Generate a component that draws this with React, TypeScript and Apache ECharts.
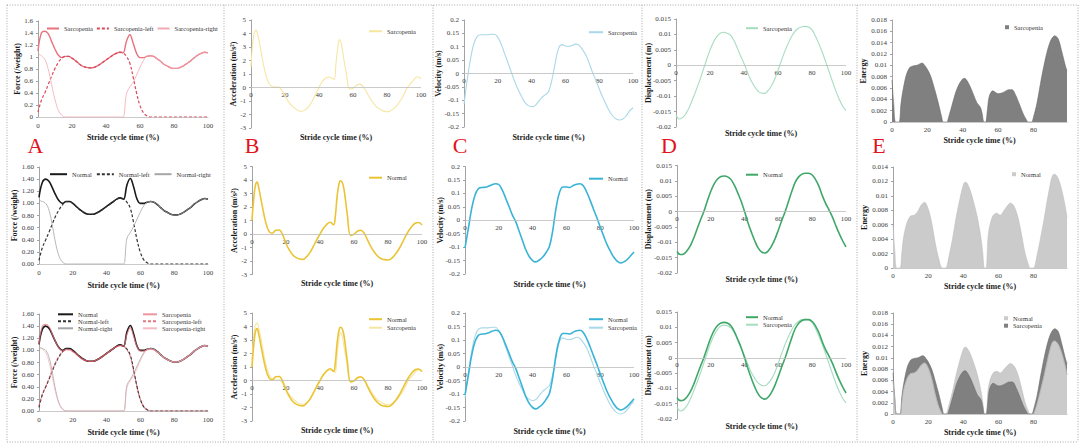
import React, { useEffect, useRef } from 'react';
import * as echarts from 'echarts';

const FONT = '"Liberation Serif", "Times New Roman", serif';

// Stride cycle time grid (%) used for force, velocity, displacement
const STRIDE = [0,2,4,6,8,10,12,14,16,18,20,22,24,26,28,30,32,34,36,38,40,42,44,46,48,50,52,54,56,58,60,62,64,66,68,70,72,74,76,78,80,82,84,86,88,90,92,94,96,98,100];

// A: force (/weight)
const FORCE_SARC = [1.10,1.40,1.43,1.39,1.26,1.13,1.03,0.99,1.01,1.01,0.98,0.94,0.89,0.85,0.83,0.82,0.82,0.84,0.87,0.91,0.95,0.99,1.03,1.06,1.08,1.07,1.26,1.37,1.23,1.06,0.99,0.99,1.01,1.02,1.01,0.97,0.93,0.88,0.85,0.82,0.81,0.81,0.83,0.86,0.90,0.94,0.99,1.03,1.06,1.08,1.07];
const FORCE_SARC_LEFT = [0.08,0.28,0.40,0.54,0.68,0.81,0.91,0.98,1.01,1.01,0.98,0.94,0.89,0.85,0.83,0.82,0.82,0.84,0.87,0.91,0.95,0.99,1.03,1.06,1.08,1.07,1.01,0.90,0.66,0.40,0.19,0.07,0.02,0,0,0,0,0,0,0,0,0,0,0,0,0,0,0,0,0,0];
const FORCE_SARC_RIGHT = [1.05,1.02,0.96,0.80,0.54,0.29,0.11,0.03,0,0,0,0,0,0,0,0,0,0,0,0,0,0,0,0,0,0,0.38,0.50,0.58,0.70,0.83,0.94,1.01,1.02,1.01,0.97,0.93,0.88,0.85,0.82,0.81,0.81,0.83,0.86,0.90,0.94,0.99,1.03,1.06,1.08,1.07];
const FORCE_NORM = [1.10,1.35,1.40,1.36,1.25,1.13,1.04,1.00,1.03,1.03,1.00,0.95,0.90,0.86,0.83,0.82,0.82,0.84,0.87,0.91,0.95,0.99,1.03,1.07,1.09,1.07,1.30,1.41,1.27,1.07,1.00,1.00,1.02,1.03,1.02,0.98,0.93,0.88,0.85,0.82,0.81,0.81,0.83,0.86,0.90,0.94,0.99,1.03,1.06,1.08,1.07];
const FORCE_NORM_LEFT = [0.06,0.27,0.40,0.53,0.67,0.80,0.90,0.98,1.03,1.03,1.00,0.95,0.90,0.86,0.83,0.82,0.82,0.84,0.87,0.91,0.95,0.99,1.03,1.07,1.09,1.07,1.02,0.92,0.68,0.40,0.19,0.07,0.02,0,0,0,0,0,0,0,0,0,0,0,0,0,0,0,0,0,0];
const FORCE_NORM_RIGHT = [1.05,1.03,1.00,0.88,0.62,0.32,0.12,0.03,0,0,0,0,0,0,0,0,0,0,0,0,0,0,0,0,0,0,0.42,0.52,0.62,0.74,0.86,0.96,1.02,1.03,1.02,0.98,0.93,0.88,0.85,0.82,0.81,0.81,0.83,0.86,0.90,0.94,0.99,1.03,1.06,1.08,1.07];

// B: acceleration (m/s²)
const ACC_X = [0,1,2,3,4,5,6,8,10,12,14,16,18,20,22,24,26,28,30,32,34,36,38,40,42,44,46,48,49,50,51,52,53,54,55,56,58,60,62,64,66,68,70,72,74,76,78,80,82,84,86,88,90,92,94,96,98,100];
const ACC_SARC = [1.5,3.3,4.1,4.25,3.9,3.3,2.6,1.3,0.45,0.1,0.03,0.05,-0.2,-0.6,-1.05,-1.35,-1.56,-1.72,-1.76,-1.65,-1.4,-1.0,-0.5,0.0,0.45,0.7,0.78,0.65,0.6,1.8,2.9,3.55,3.3,2.6,1.8,1.1,-0.1,-0.05,0.15,0.25,0.05,-0.35,-0.8,-1.15,-1.45,-1.62,-1.75,-1.8,-1.72,-1.55,-1.3,-0.95,-0.5,0.0,0.3,0.6,0.8,0.65];
const ACC_NORM = [1.0,2.6,3.6,3.85,3.4,2.75,2.1,0.9,0.2,0.06,0.28,0.3,-0.05,-0.7,-1.2,-1.55,-1.75,-1.85,-1.88,-1.7,-1.4,-0.94,-0.45,0.0,0.42,0.72,0.87,0.68,1.3,2.7,3.6,3.95,3.85,3.4,2.5,1.5,-0.1,-0.03,0.2,0.28,0.05,-0.45,-0.95,-1.35,-1.65,-1.83,-1.9,-1.93,-1.82,-1.55,-1.2,-0.75,-0.25,0.2,0.55,0.8,0.85,0.67];

// C: velocity (m/s)
const VEL_SARC = [-0.115,-0.02,0.06,0.115,0.14,0.145,0.145,0.145,0.147,0.147,0.135,0.11,0.075,0.04,0.005,-0.03,-0.06,-0.085,-0.108,-0.12,-0.124,-0.12,-0.105,-0.09,-0.08,-0.068,-0.025,0.04,0.095,0.108,0.103,0.102,0.105,0.11,0.106,0.09,0.07,0.04,0.005,-0.025,-0.057,-0.088,-0.115,-0.14,-0.158,-0.17,-0.174,-0.17,-0.158,-0.14,-0.128];
const VEL_NORM = [-0.103,-0.03,0.045,0.095,0.118,0.122,0.123,0.127,0.132,0.136,0.133,0.113,0.083,0.052,0.02,-0.005,-0.04,-0.075,-0.11,-0.135,-0.15,-0.155,-0.148,-0.137,-0.12,-0.097,-0.035,0.05,0.105,0.124,0.124,0.122,0.129,0.134,0.136,0.128,0.105,0.075,0.042,0.01,-0.025,-0.058,-0.09,-0.115,-0.137,-0.152,-0.159,-0.155,-0.146,-0.132,-0.118];

// D: displacement (m)
const DISP_SARC = [-0.0161,-0.0174,-0.0169,-0.0155,-0.0134,-0.0107,-0.0078,-0.0048,-0.0015,0.0018,0.0049,0.0075,0.0093,0.0104,0.0107,0.0104,0.0098,0.0081,0.0057,0.003,0.0006,-0.0022,-0.0048,-0.0067,-0.0082,-0.009,-0.0091,-0.0083,-0.0068,-0.0046,-0.0016,0.0015,0.0045,0.0071,0.0093,0.011,0.012,0.0125,0.0126,0.0124,0.0115,0.0095,0.007,0.0043,0.0012,-0.002,-0.0052,-0.0083,-0.011,-0.0132,-0.0147];
const DISP_NORM = [-0.013,-0.014,-0.0138,-0.0127,-0.011,-0.0085,-0.0055,-0.0026,0.0002,0.0035,0.0066,0.009,0.0106,0.0114,0.0116,0.0113,0.0104,0.0085,0.006,0.0033,0.0,-0.0036,-0.0067,-0.0095,-0.0118,-0.0131,-0.0135,-0.0128,-0.0112,-0.0089,-0.006,-0.0029,0.0,0.0034,0.0067,0.0096,0.0113,0.0122,0.0125,0.0125,0.0119,0.0104,0.0082,0.0052,0.0026,0.0005,-0.0018,-0.0046,-0.0072,-0.0095,-0.0115];

// E: energy
const EN_SARC_X = [0,1,2,4,5,6,8,10,12,14,16,17,18,20,22,24,26,28,29,31,32,34,36,38,40,41,42,44,46,48,50,51,52,53,54,55,57,60,62,64,66,68,70,72,74,76,77,79,80,82,84,86,88,90,92,94,96,98,99];
const EN_SARC_Y = [0.0074,0.003,0,0,0.003,0.0052,0.0082,0.0096,0.0099,0.0100,0.0103,0.0104,0.0102,0.0093,0.0080,0.0059,0.0036,0.0010,0,0,0.0008,0.003,0.0052,0.0067,0.0076,0.0077,0.0075,0.0064,0.0049,0.0034,0.0026,0.0015,0,0,0.0022,0.0045,0.0055,0.0050,0.0051,0.0054,0.0057,0.0057,0.0047,0.0032,0.0016,0.0004,0,0,0.0008,0.0033,0.0068,0.0100,0.0127,0.0145,0.0152,0.0147,0.0125,0.0100,0.009];
const EN_NORM_X = [0,1,2,4,5,6,8,10,12,14,16,18,20,22,24,26,28,30,32,34,36,38,40,41,42,44,46,48,50,51,52,53,54,55,57,59,61,63,65,67,69,71,73,75,77,78,80,82,84,86,88,90,91,92,94,96,98,99];
const EN_NORM_Y = [0.006,0.0025,0,0,0.002,0.0042,0.0063,0.0072,0.0073,0.0078,0.0087,0.0091,0.0082,0.0063,0.0035,0.0013,0,0,0.0018,0.0042,0.0071,0.0095,0.0115,0.0119,0.0118,0.0107,0.0090,0.0070,0.0042,0.0022,0,0,0.004,0.0058,0.0073,0.0076,0.0073,0.0079,0.0086,0.0090,0.0085,0.0071,0.0048,0.0022,0.0005,0,0,0.0018,0.0042,0.0068,0.0097,0.0122,0.0129,0.013,0.0124,0.0108,0.0085,0.007];

const PANEL_LETTERS = ['A', 'B', 'C', 'D', 'E'];
const X_TITLE = 'Stride cycle time (%)';

type Panel = {
  g: [number, number, number, number];
  y: [number, number, number];
  fmt2?: boolean;
  yName: string;
  yGap: number;
  xMax: number;
  xMargin: number; // label distance from the x axis line (or from the zero line when crossing)
  xGap: number; // title distance from the bottom edge of the plot area
  cross?: boolean; // x axis drawn at y = 0 inside the plot
  hideMax?: boolean;
};

const PANELS: Panel[] = [
  { g: [38, 21, 170, 96], y: [0, 1.6, 0.2], yName: 'Force (/weight)', yGap: 17, xMax: 100, xMargin: 5, xGap: 16 },
  { g: [39, 167, 169, 97], y: [0, 1.6, 0.2], fmt2: true, yName: 'Force (/weight)', yGap: 21, xMax: 100, xMargin: 5, xGap: 17 },
  { g: [39, 314, 169, 97], y: [0, 1.6, 0.2], fmt2: true, yName: 'Force (/weight)', yGap: 21, xMax: 100, xMargin: 5, xGap: 17 },
  { g: [251, 20, 170, 108], y: [-3, 5, 1], yName: 'Acceleration (m/s²)', yGap: 14, xMax: 100, xMargin: 4, xGap: 5, cross: true },
  { g: [252, 166.5, 170, 108], y: [-3, 5, 1], yName: 'Acceleration (m/s²)', yGap: 13.5, xMax: 100, xMargin: 4, xGap: 5, cross: true },
  { g: [252, 313, 170, 108], y: [-3, 5, 1], yName: 'Acceleration (m/s²)', yGap: 13.5, xMax: 100, xMargin: 4, xGap: 5, cross: true },
  { g: [464, 20, 169, 107], y: [-0.2, 0.2, 0.05], yName: 'Velocity (m/s)', yGap: 21.5, xMax: 100, xMargin: 4, xGap: 6.3, cross: true },
  { g: [465, 166.5, 169, 107.5], y: [-0.2, 0.2, 0.05], yName: 'Velocity (m/s)', yGap: 21, xMax: 100, xMargin: 4, xGap: 6, cross: true },
  { g: [465, 313, 169, 108], y: [-0.2, 0.2, 0.05], yName: 'Velocity (m/s)', yGap: 21, xMax: 100, xMargin: 4, xGap: 6, cross: true },
  { g: [676, 19, 170, 108], y: [-0.02, 0.015, 0.005], yName: 'Displacement (m)', yGap: 24, xMax: 100, xMargin: 4, xGap: 2, cross: true },
  { g: [677, 165.5, 169, 107.5], y: [-0.02, 0.015, 0.005], yName: 'Displacement (m)', yGap: 24.5, xMax: 100, xMargin: 4, xGap: 2.5, cross: true },
  { g: [677, 312, 169, 107], y: [-0.02, 0.015, 0.005], yName: 'Displacement (m)', yGap: 24.5, xMax: 100, xMargin: 4, xGap: 3, cross: true },
  { g: [892, 20, 175, 102], y: [0, 0.018, 0.002], yName: 'Energy', yGap: 25, xMax: 99, xMargin: 4, xGap: 14, hideMax: true },
  { g: [893, 167, 174, 101], y: [0, 0.014, 0.002], yName: 'Energy', yGap: 25, xMax: 99, xMargin: 4, xGap: 14.5, hideMax: true },
  { g: [893, 313, 174, 101], y: [0, 0.018, 0.002], yName: 'Energy', yGap: 25, xMax: 99, xMargin: 4, xGap: 14, hideMax: true },
];

const zip = (xs: number[], ys: (number | string)[]) => xs.map((x, i) => [x, ys[i]]);

const ZERO_LINE = {
  silent: true, symbol: ['none', 'none'], label: { show: false },
  lineStyle: { color: '#bdbdbd', width: 0.8, type: 'solid' },
  emphasis: { disabled: true },
  data: [{ yAxis: 0 }],
};

function line(idx: number, name: string, xs: number[], ys: (number | string)[], color: string, width: number, dash?: number[], opacity = 1) {
  const s: any = {
    type: 'line', name, xAxisIndex: idx, yAxisIndex: idx, data: zip(xs, ys),
    symbol: 'none', smooth: 0.4, color,
    lineStyle: { color, width, type: dash ? dash : 'solid', opacity },
    emphasis: { disabled: true },
  };
  return s;
}

function area(idx: number, name: string, xs: number[], ys: (number | string)[], color: string, edge: string) {
  return {
    type: 'line', name, xAxisIndex: idx, yAxisIndex: idx, data: zip(xs, ys),
    symbol: 'none', smooth: 0.3, color, connectNulls: false,
    lineStyle: { color: edge, width: 0.6 },
    areaStyle: { color, opacity: 1 },
    emphasis: { disabled: true },
  };
}

function legend(names: string[], left: number, top: number, o: { orient?: string; itemWidth: number; itemHeight?: number; itemGap?: number; fontSize?: number; icon?: string }) {
  const fs = o.fontSize ?? 6.5;
  const l: any = {
    data: names, left, top, orient: o.orient ?? 'horizontal',
    itemWidth: o.itemWidth, itemHeight: o.itemHeight ?? fs, itemGap: o.itemGap ?? 3,
    padding: 0, selectedMode: false,
    formatter: (n: string) => n.split('|')[1],
    textStyle: { fontFamily: FONT, fontSize: fs, color: '#333' },
  };
  if (o.icon) l.icon = o.icon;
  else l.itemStyle = { opacity: 0 };
  return l;
}

const C = {
  sarc: '#e8727e', sarcLeft: '#d9485a', sarcRight: '#f3a9b3',
  norm: '#1a1a1a', normLeft: '#333333', normRight: '#a6a6a6',
  accS: '#f6e6a2', accN: '#eac435',
  velS: '#a9d8e8', velN: '#39b3d6',
  disS: '#a6dcc0', disN: '#3fa869',
  enS: '#808080', enSEdge: '#6a6a6a', enN: '#cbcbcb', enNEdge: '#bdbdbd',
};

function buildOption() {
  const grid: any[] = [];
  const xAxis: any[] = [];
  const yAxis: any[] = [];
  const nameStyle = { fontFamily: FONT, fontSize: 8, fontWeight: 'bold', color: '#1a1a1a' };
  PANELS.forEach((p, i) => {
    const h = p.g[3];
    // distance from the bottom edge up to the y = 0 line
    const zeroUp = p.cross ? (h * (0 - p.y[0])) / (p.y[1] - p.y[0]) : 0;
    grid.push({ left: p.g[0], top: p.g[1], width: p.g[2], height: h, containLabel: false, outerBoundsMode: 'none' });
    xAxis.push({
      type: 'value', gridIndex: i, min: 0, max: p.xMax, interval: 20,
      axisLine: { show: !p.cross, onZero: false, lineStyle: { color: '#bdbdbd', width: 0.8 } },
      axisTick: { show: false }, splitLine: { show: false },
      axisLabel: { fontFamily: FONT, fontSize: 7, color: '#404040', margin: p.xMargin - zeroUp, showMaxLabel: !p.hideMax },
      name: X_TITLE, nameLocation: 'middle', nameGap: p.xGap, nameTextStyle: nameStyle, nameMoveOverlap: false,
    });
    yAxis.push({
      type: 'value', gridIndex: i, min: p.y[0], max: p.y[1], interval: p.y[2],
      axisLine: { show: true, onZero: false, lineStyle: { color: '#8c8c8c', width: 0.8 } },
      axisTick: { show: true, length: 2, lineStyle: { color: '#8c8c8c', width: 0.8 } },
      splitLine: { show: false },
      axisLabel: {
        fontFamily: FONT, fontSize: 7, color: '#404040', margin: 5,
        formatter: p.fmt2 ? (v: number) => v.toFixed(2) : undefined,
      },
      name: p.yName, nameLocation: 'middle', nameGap: p.yGap, nameTextStyle: nameStyle, nameMoveOverlap: false,
    });
  });

  const series: any[] = [
    // A
    line(0, 'A1|Sarcopenia', STRIDE, FORCE_SARC, C.sarc, 1.4),
    line(0, 'A1|Sarcopenia-left', STRIDE, FORCE_SARC_LEFT, C.sarcLeft, 1.2, [3, 2]),
    line(0, 'A1|Sarcopenia-right', STRIDE, FORCE_SARC_RIGHT, C.sarcRight, 0.8),
    line(1, 'A2|Normal', STRIDE, FORCE_NORM, C.norm, 1.6),
    line(1, 'A2|Normal-left', STRIDE, FORCE_NORM_LEFT, C.normLeft, 1.2, [3, 2]),
    line(1, 'A2|Normal-right', STRIDE, FORCE_NORM_RIGHT, C.normRight, 0.8),
    line(2, 'A3|Normal', STRIDE, FORCE_NORM, C.norm, 1.6),
    line(2, 'A3|Normal-left', STRIDE, FORCE_NORM_LEFT, C.normLeft, 1.2, [3, 2]),
    line(2, 'A3|Normal-right', STRIDE, FORCE_NORM_RIGHT, C.normRight, 0.8),
    line(2, 'A3|Sarcopenia', STRIDE, FORCE_SARC, C.sarc, 1.2, undefined, 0.75),
    line(2, 'A3|Sarcopenia-left', STRIDE, FORCE_SARC_LEFT, C.sarcLeft, 1.1, [3, 2], 0.75),
    line(2, 'A3|Sarcopenia-right', STRIDE, FORCE_SARC_RIGHT, C.sarcRight, 0.8, undefined, 0.8),
    // B
    line(3, 'B1|Sarcopenia', ACC_X, ACC_SARC, C.accS, 1.1),
    line(4, 'B2|Normal', ACC_X, ACC_NORM, C.accN, 1.6),
    line(5, 'B3|Sarcopenia', ACC_X, ACC_SARC, C.accS, 1.1),
    line(5, 'B3|Normal', ACC_X, ACC_NORM, C.accN, 1.6),
    // C
    line(6, 'C1|Sarcopenia', STRIDE, VEL_SARC, C.velS, 1.1),
    line(7, 'C2|Normal', STRIDE, VEL_NORM, C.velN, 1.6),
    line(8, 'C3|Sarcopenia', STRIDE, VEL_SARC, C.velS, 1.1),
    line(8, 'C3|Normal', STRIDE, VEL_NORM, C.velN, 1.6),
    // D
    line(9, 'D1|Sarcopenia', STRIDE, DISP_SARC, C.disS, 1.1),
    line(10, 'D2|Normal', STRIDE, DISP_NORM, C.disN, 1.6),
    line(11, 'D3|Sarcopenia', STRIDE, DISP_SARC, C.disS, 1.1),
    line(11, 'D3|Normal', STRIDE, DISP_NORM, C.disN, 1.6),
    // E
    area(12, 'E1|Sarcopenia', EN_SARC_X, EN_SARC_Y, C.enS, C.enSEdge),
    area(13, 'E2|Normal', EN_NORM_X, EN_NORM_Y, C.enN, C.enNEdge),
    area(14, 'E3|Normal', EN_NORM_X, EN_NORM_Y, C.enN, C.enNEdge),
    area(14, 'E3|Sarcopenia', EN_SARC_X, EN_SARC_Y, C.enS, C.enSEdge),
    area(14, 'E3|Normal-front', EN_NORM_X, EN_NORM_X.map((x, i) => (x <= 29 || x >= 79 ? EN_NORM_Y[i] : '-')), C.enN, C.enNEdge),
  ];

  // zero line for the panels whose x axis crosses at y = 0 (first series of each such panel)
  const seen = new Set<number>();
  series.forEach((s) => {
    const idx = s.xAxisIndex;
    if (PANELS[idx].cross && !seen.has(idx)) {
      seen.add(idx);
      s.markLine = ZERO_LINE;
      s.z = 3;
    }
  });

  const legends = [
    legend(['A1|Sarcopenia', 'A1|Sarcopenia-left', 'A1|Sarcopenia-right'], 46, 25, { itemWidth: 12, itemGap: 3 }),
    legend(['A2|Normal', 'A2|Normal-left', 'A2|Normal-right'], 49, 170.7, { itemWidth: 17, itemGap: 4 }),
    legend(['A3|Normal', 'A3|Normal-left', 'A3|Normal-right'], 57, 310.8, { orient: 'vertical', itemWidth: 15, itemGap: 0 }),
    legend(['A3|Sarcopenia', 'A3|Sarcopenia-left', 'A3|Sarcopenia-right'], 142, 310.8, { orient: 'vertical', itemWidth: 14, itemGap: 0 }),
    legend(['B1|Sarcopenia'], 368, 27.7, { itemWidth: 13 }),
    legend(['B2|Normal'], 368, 174.2, { itemWidth: 13 }),
    legend(['B3|Normal', 'B3|Sarcopenia'], 368, 315.7, { orient: 'vertical', itemWidth: 13, itemGap: 1.5 }),
    legend(['C1|Sarcopenia'], 588, 28.7, { itemWidth: 14 }),
    legend(['C2|Normal'], 588, 175.2, { itemWidth: 14 }),
    legend(['C3|Normal', 'C3|Sarcopenia'], 588, 315.7, { orient: 'vertical', itemWidth: 14, itemGap: 1.5 }),
    legend(['D1|Sarcopenia'], 745, 24.7, { itemWidth: 12 }),
    legend(['D2|Normal'], 745, 171.2, { itemWidth: 12 }),
    legend(['D3|Normal', 'D3|Sarcopenia'], 745, 313.7, { orient: 'vertical', itemWidth: 12, itemGap: 0.5 }),
    legend(['E1|Sarcopenia'], 1005, 23.7, { itemWidth: 4, itemHeight: 4, icon: 'rect' }),
    legend(['E2|Normal'], 1012, 170.7, { itemWidth: 4, itemHeight: 4, icon: 'rect' }),
    legend(['E3|Normal', 'E3|Sarcopenia'], 1004, 314.7, { orient: 'vertical', itemWidth: 4, itemHeight: 4, icon: 'rect', itemGap: 0.5 }),
  ];

  const dot = { stroke: '#a6a6a6', lineWidth: 1, lineDash: [1, 1.6] };
  const lines = [
    [7, 5, 1078, 5], [7, 442, 1078, 442], [7, 5, 7, 442],
    [224, 5, 224, 442], [433, 5, 433, 442], [642, 5, 642, 442], [857, 5, 857, 442], [1078, 5, 1078, 442],
  ].map(([x1, y1, x2, y2]) => ({ type: 'line', silent: true, shape: { x1, y1, x2, y2 }, style: dot }));
  const letterX = [35.5, 252, 460, 669, 879];
  const letters = PANEL_LETTERS.map((t, i) => ({
    type: 'text', silent: true, x: letterX[i], y: 145,
    style: {
      text: t, fill: '#e3131b', fontFamily: FONT, fontSize: 22,
      align: 'center', verticalAlign: 'middle', textAlign: 'center', textVerticalAlign: 'middle',
    },
  }));

  return {
    animation: false,
    backgroundColor: '#ffffff',
    textStyle: { fontFamily: FONT },
    grid, xAxis, yAxis, series, legend: legends,
    graphic: { elements: [...lines, ...letters] },
  };
}

export default function App() {
  const ref = useRef<HTMLDivElement>(null);
  useEffect(() => {
    const chart = echarts.init(ref.current as HTMLDivElement, null, { renderer: 'svg' });
    chart.setOption(buildOption() as any);
    return () => chart.dispose();
  }, []);
  return (
    <div
      ref={ref}
      style={{ position: 'absolute', left: 0, top: 0, width: 1084, height: 448, background: '#fff' }}
    />
  );
}
